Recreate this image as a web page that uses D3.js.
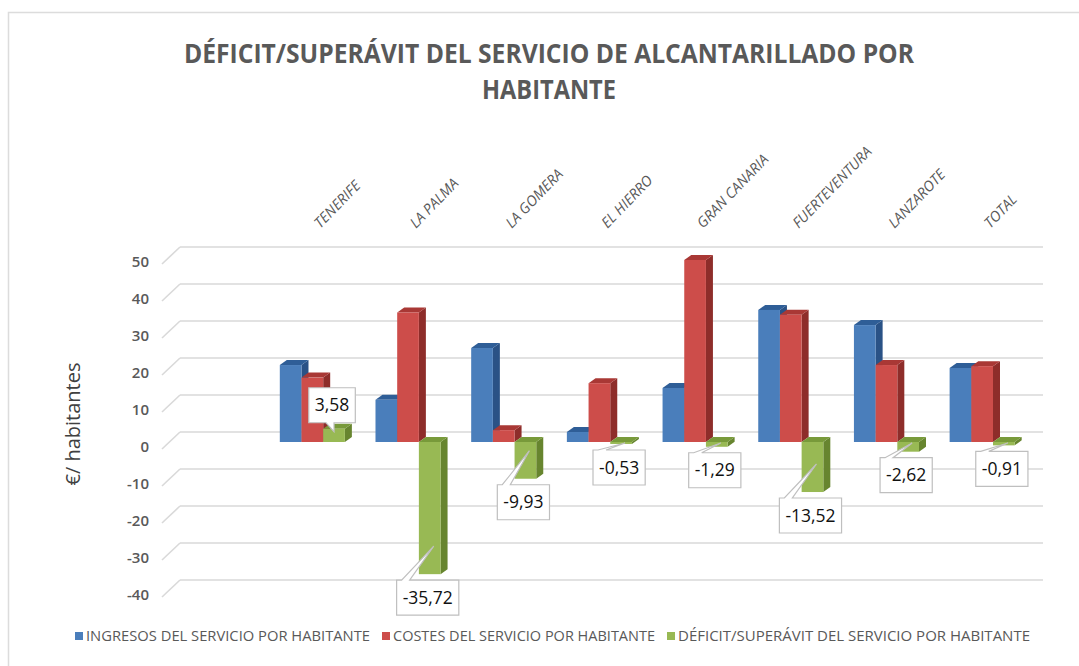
<!DOCTYPE html>
<html><head><meta charset="utf-8">
<script src="https://cdn.jsdelivr.net/npm/d3@7"></script>
<style>
html,body{margin:0;padding:0;background:#fff;}
svg{display:block;}
</style></head>
<body>
<svg id="chart" width="1079" height="666"></svg>
<script>
const categories = ["TENERIFE","LA PALMA","LA GOMERA","EL HIERRO","GRAN CANARIA","FUERTEVENTURA","LANZAROTE","TOTAL"];
const ingresos = [20.8, 11.4, 25.4, 2.7, 14.6, 35.7, 31.6, 20.0];
const costes   = [17.4, 35.0, 3.2, 15.9, 49.2, 34.4, 20.8, 20.5];
const deficit  = [3.58, -35.72, -9.93, -0.53, -1.29, -13.52, -2.62, -0.91];
const seriesNames = ["INGRESOS DEL SERVICIO POR HABITANTE","COSTES DEL SERVICIO POR HABITANTE","DÉFICIT/SUPERÁVIT DEL SERVICIO POR HABITANTE"];
const yTicks = [50,40,30,20,10,0,-10,-20,-30,-40];
const titleLines = ["DÉFICIT/SUPERÁVIT DEL SERVICIO DE ALCANTARILLADO POR","HABITANTE"];
const yTitle = "€/ habitantes";

const colors = [
  {front:"#4a7ebb", top:"#2f5e97", side:"#2a5286"},
  {front:"#cd4d4a", top:"#a93835", side:"#8e2d2a"},
  {front:"#98b954", top:"#789a3a", side:"#67852f"}
];
const seriesData = [ingresos, costes, deficit];

const svg = d3.select("#chart");
const FONT = "'Liberation Sans Narrow','Open Sans','Liberation Sans',Arial,sans-serif";

// chart border
svg.append("rect").attr("x",8.5).attr("y",12.5).attr("width",1100).attr("height",700)
  .attr("fill","#fff").attr("stroke","#dcdcdc").attr("stroke-width",1.5);

// scales
const yBack = d3.scaleLinear().domain([-40,50]).range([580,247]);
const FRONT_DY = 10;               // bars front face offset from back wall
const yF = v => yBack(v) + FRONT_DY;
const DX = 7, DY = -5;              // 3D depth
const x0 = d3.scaleBand().domain(categories).range([264.5,1030]).paddingInner(0.32).paddingOuter(0.16);
const x1 = d3.scaleBand().domain(d3.range(3)).range([0, x0.bandwidth()]).padding(0);

// gridlines
const grid = svg.append("g");
yTicks.forEach(v => {
  const yb = yBack(v);
  grid.append("line").attr("x1",180).attr("x2",1043).attr("y1",yb).attr("y2",yb)
    .attr("stroke","#d9d9d9").attr("stroke-width",1.6);
  grid.append("line").attr("x1",162).attr("x2",180).attr("y1",yb+17).attr("y2",yb)
    .attr("stroke","#d9d9d9").attr("stroke-width",1.6);
});

// y tick labels
svg.append("g").selectAll("text").data(yTicks).join("text")
  .attr("x",149).attr("y",d => yBack(d)+15).attr("dy","0.35em")
  .attr("text-anchor","end").attr("font-family","'Open Sans',sans-serif")
  .attr("font-weight",600).attr("font-size",15).attr("fill","#595959")
  .text(d => d);

// y title
svg.append("text").attr("transform","translate(80,424) rotate(-90)")
  .attr("text-anchor","middle").attr("font-family","'Open Sans',sans-serif")
  .attr("font-size",20).attr("fill","#404040").text(yTitle);

// title
svg.append("g").selectAll("text").data(titleLines).join("text")
  .attr("x",549).attr("y",(d,i)=> 63 + i*36)
  .attr("text-anchor","middle").attr("font-family",FONT).attr("font-weight","bold")
  .attr("font-size",27).attr("fill","#595959")
  .attr("textLength",(d,i)=> i===0 ? 730 : 134).attr("lengthAdjust","spacingAndGlyphs")
  .text(d => d);

// category labels (top, rotated)
svg.append("g").selectAll("text").data(categories).join("text")
  .attr("transform", d => `translate(${x0(d)+x0.bandwidth()/2+8},229) rotate(-46)`)
  .attr("font-family","'Open Sans',sans-serif").attr("font-style","italic")
  .attr("font-size",14.5).attr("fill","#595959").text(d => d);

// bars
const barsG = svg.append("g");
categories.forEach((c, ci) => {
  seriesData.forEach((arr, si) => {
    const v = arr[ci];
    const x = x0(c) + x1(si), w = x1.bandwidth();
    const yT = Math.min(yF(v), yF(0)), yB = Math.max(yF(v), yF(0));
    const col = colors[si];
    const g = barsG.append("g");
    g.append("polygon").attr("points",[[x+w,yT],[x+w+DX,yT+DY],[x+w+DX,yB+DY],[x+w,yB]].join(" ")).attr("fill",col.side);
    g.append("polygon").attr("points",[[x,yT],[x+DX,yT+DY],[x+w+DX,yT+DY],[x+w,yT]].join(" ")).attr("fill",col.top);
    g.append("rect").attr("x",x).attr("y",yT).attr("width",w).attr("height",Math.max(0.01,yB-yT)).attr("fill",col.front);
  });
});

// data labels (callouts) for deficit series
const fmt = v => d3.format(".2f")(v).replace(".",",").replace("\u2212","-");
const lblG = svg.append("g");
categories.forEach((c, ci) => {
  const v = deficit[ci];
  const gx = x0(c) + x1(2) + x1.bandwidth()/2;
  const t = lblG.append("text").attr("font-family","'Open Sans',sans-serif")
    .attr("font-size",17.5).attr("fill","#111").attr("text-anchor","middle").text(fmt(v));
  const tw = t.node().getComputedTextLength();
  const bw = tw + 12, bh = 35;
  const cx = gx - 2;
  const L = cx - bw/2, R = cx + bw/2;
  let T, B, path;
  if (v < 0) {
    T = Math.max(yF(v), yF(0)+2) + 6; B = T + bh;
    const tipX = gx + 4, tipY = Math.max(yF(0)+1, yF(v) - 28);
    path = `M${L},${T} L${L+5},${T} L${tipX},${tipY} L${L+13},${T} L${R},${T} L${R},${B} L${L},${B} Z`;
  } else {
    B = yF(v) - 6; T = B - bh;
    const tipX = gx, tipY = yF(v) + 3;
    path = `M${L},${T} L${R},${T} L${R},${B} L${cx+2},${B} L${tipX},${tipY} L${cx-6},${B} L${L},${B} Z`;
  }
  lblG.insert("path","text").attr("d",path).attr("fill","#fff").attr("stroke","#bfbfbf").attr("stroke-width",1.2);
  t.attr("x",cx).attr("y",(T+B)/2).attr("dy","0.35em");
  t.raise();
});

// legend
const legendX = [75, 382, 667];
const legendW = [284, 262, 352];
const lg = svg.append("g");
seriesNames.forEach((n,i) => {
  lg.append("rect").attr("x",legendX[i]).attr("y",632).attr("width",8).attr("height",8).attr("fill",colors[i].front);
  lg.append("text").attr("x",legendX[i]+11).attr("y",641)
    .attr("font-family",FONT).attr("font-size",14).attr("fill","#595959")
    .attr("textLength",legendW[i]).attr("lengthAdjust","spacingAndGlyphs").text(n);
});
</script>
</body></html>
